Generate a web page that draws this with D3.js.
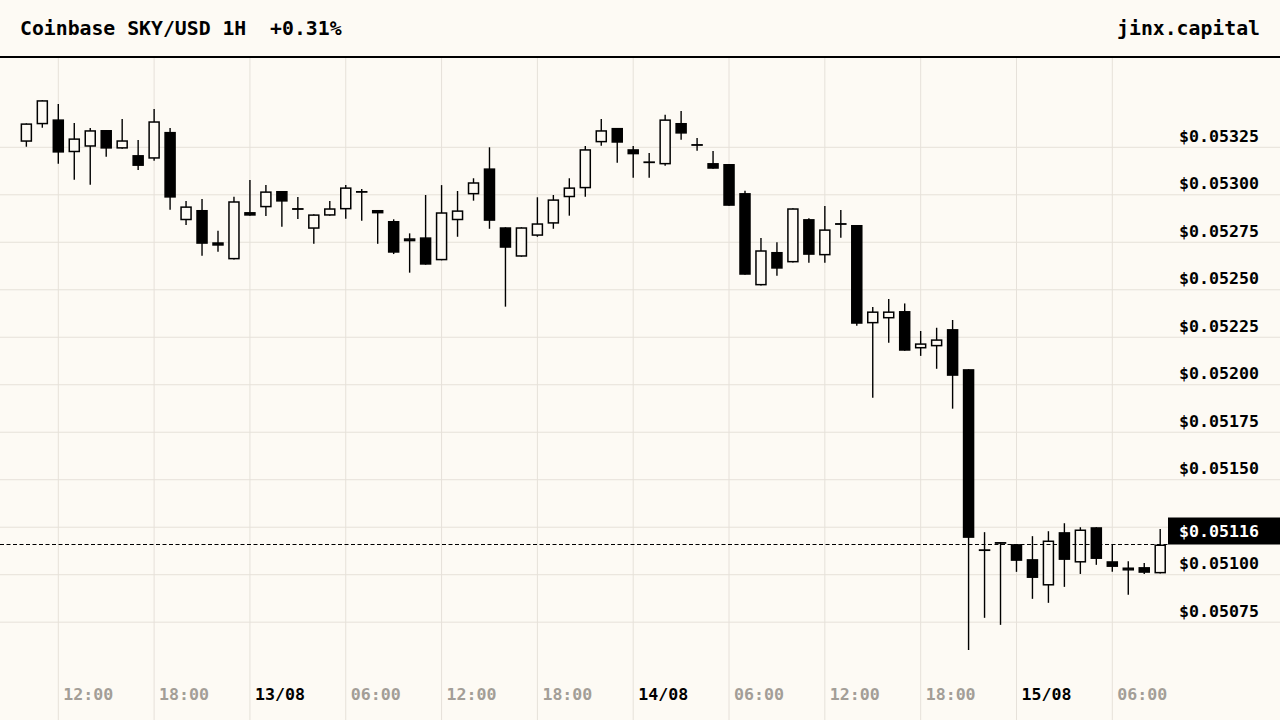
<!DOCTYPE html>
<html>
<head>
<meta charset="utf-8">
<script src="https://cdn.jsdelivr.net/npm/d3@7"></script>
<style>
  html, body { margin: 0; padding: 0; background: #fdfaf4; }
  svg { display: block; font-family: "DejaVu Sans Mono", monospace; }
</style>
</head>
<body>
<div id="chart"></div>
<script>
// Hourly candles, 12/08 10:00 -> 15/08 09:00
const startTime = new Date(2025, 7, 12, 10);
const opens = [0.053279, 0.053371, 0.053397, 0.053224, 0.053253, 0.053341, 0.053243, 0.053209, 0.053190, 0.053331,
  0.052866, 0.052920, 0.052750, 0.052660, 0.052909, 0.052934, 0.053020, 0.052930, 0.052821, 0.052890,
  0.052923, 0.053020, 0.052920, 0.052862, 0.052755, 0.052776, 0.052655, 0.052866, 0.053002, 0.053139,
  0.052829, 0.052674, 0.052784, 0.052848, 0.052987, 0.053034, 0.053276, 0.053352, 0.053240, 0.053176,
  0.053160, 0.053378, 0.053267, 0.053167, 0.053162, 0.053009, 0.052523, 0.052699, 0.052644, 0.052872,
  0.052681, 0.052851, 0.052841, 0.052323, 0.052349, 0.052388, 0.052191, 0.052202, 0.052293, 0.052082,
  0.051134, 0.051172, 0.051161, 0.051082, 0.050943, 0.051224, 0.051064, 0.051250, 0.051071, 0.051022,
  0.051040, 0.051007];
const highs = [0.053376, 0.053498, 0.053478, 0.053378, 0.053352, 0.053341, 0.053399, 0.053288, 0.053452, 0.053352,
  0.052967, 0.052978, 0.052811, 0.052990, 0.053078, 0.053051, 0.053020, 0.052988, 0.052897, 0.052967,
  0.053051, 0.053030, 0.052920, 0.052871, 0.052797, 0.052999, 0.053051, 0.053020, 0.053087, 0.053250,
  0.052829, 0.052829, 0.052987, 0.052999, 0.053087, 0.053257, 0.053399, 0.053352, 0.053257, 0.053220,
  0.053422, 0.053441, 0.053299, 0.053231, 0.053162, 0.053021, 0.052772, 0.052750, 0.052929, 0.052876,
  0.052941, 0.052920, 0.052841, 0.052409, 0.052451, 0.052428, 0.052283, 0.052300, 0.052341, 0.052082,
  0.051224, 0.051172, 0.051161, 0.051203, 0.051229, 0.051271, 0.051250, 0.051250, 0.051161, 0.051071,
  0.051061, 0.051240];
const lows = [0.053253, 0.053353, 0.053164, 0.053079, 0.053053, 0.053200, 0.053243, 0.053130, 0.053179, 0.052921,
  0.052841, 0.052679, 0.052700, 0.052660, 0.052890, 0.052888, 0.052832, 0.052872, 0.052742, 0.052890,
  0.052874, 0.052863, 0.052742, 0.052688, 0.052590, 0.052632, 0.052655, 0.052779, 0.052969, 0.052821,
  0.052411, 0.052674, 0.052779, 0.052821, 0.052890, 0.052990, 0.053258, 0.053169, 0.053090, 0.053090,
  0.053153, 0.053290, 0.053232, 0.053137, 0.052942, 0.052579, 0.052523, 0.052574, 0.052644, 0.052642,
  0.052642, 0.052774, 0.052310, 0.051931, 0.052221, 0.052179, 0.052152, 0.052084, 0.051874, 0.050604,
  0.050773, 0.050736, 0.051015, 0.050873, 0.050852, 0.050936, 0.051004, 0.051052, 0.051015, 0.050894,
  0.051004, 0.051007];
const closes = [0.053376, 0.053498, 0.053222, 0.053297, 0.053340, 0.053243, 0.053287, 0.053152, 0.053387, 0.052985,
  0.052939, 0.052742, 0.052732, 0.052966, 0.052890, 0.053018, 0.052964, 0.052921, 0.052897, 0.052929,
  0.053039, 0.053011, 0.052902, 0.052695, 0.052771, 0.052632, 0.052908, 0.052918, 0.053066, 0.052863,
  0.052721, 0.052829, 0.052850, 0.052976, 0.053039, 0.053240, 0.053340, 0.053274, 0.053213, 0.053169,
  0.053397, 0.053322, 0.053258, 0.053137, 0.052942, 0.052579, 0.052708, 0.052611, 0.052929, 0.052684,
  0.052818, 0.052842, 0.052321, 0.052386, 0.052386, 0.052179, 0.052218, 0.052239, 0.052047, 0.051194,
  0.051129, 0.051170, 0.051073, 0.050983, 0.051180, 0.051078, 0.051238, 0.051083, 0.051041, 0.051038,
  0.051010, 0.051159];

// Axis ticks
const priceTicks = [0.05075, 0.05100, 0.05125, 0.05150, 0.05175, 0.05200, 0.05225, 0.05250, 0.05275, 0.05300, 0.05325];
const hiddenPriceLabels = [0.05125];
const timeTicks = [new Date(2025, 7, 12, 12), new Date(2025, 7, 12, 18), new Date(2025, 7, 13, 0), new Date(2025, 7, 13, 6),
  new Date(2025, 7, 13, 12), new Date(2025, 7, 13, 18), new Date(2025, 7, 14, 0), new Date(2025, 7, 14, 6),
  new Date(2025, 7, 14, 12), new Date(2025, 7, 14, 18), new Date(2025, 7, 15, 0), new Date(2025, 7, 15, 6)];
const timeLabels = ['12:00', '18:00', '13/08', '06:00', '12:00', '18:00', '14/08', '06:00', '12:00', '18:00', '15/08', '06:00'];

const title = 'Coinbase SKY/USD 1H  +0.31%';
const brand = 'jinx.capital';

const candles = opens.map((o, i) => ({
  t: d3.timeHour.offset(startTime, i),
  o, h: highs[i], l: lows[i], c: closes[i]
}));

const dims = { width: 1280, height: 720, plotRight: 1168, headerLine: 57 };
const bg = '#fdfaf4';
const ink = '#000';
const grid = '#e6e1d9';

const x = d3.scaleTime()
  .domain([timeTicks[0], timeTicks[timeTicks.length - 1]])
  .range([58.3, 1112.3]);
const y = d3.scaleLinear()
  .domain([0.05075, 0.05325])
  .range([622.2, 147.3]);

const svg = d3.select('#chart').append('svg')
  .attr('width', dims.width)
  .attr('height', dims.height);

svg.append('rect').attr('width', dims.width).attr('height', dims.height).attr('fill', bg);

// grid
svg.append('g').selectAll('line')
  .data(priceTicks)
  .join('line')
  .attr('x1', 0).attr('x2', dims.width)
  .attr('y1', d => y(d)).attr('y2', d => y(d))
  .attr('stroke', grid).attr('stroke-width', 1);

svg.append('g').selectAll('line')
  .data(timeTicks)
  .join('line')
  .attr('x1', d => x(d)).attr('x2', d => x(d))
  .attr('y1', dims.headerLine).attr('y2', dims.height)
  .attr('stroke', grid).attr('stroke-width', 1);

// header
svg.append('line')
  .attr('x1', 0).attr('x2', dims.width)
  .attr('y1', dims.headerLine).attr('y2', dims.headerLine)
  .attr('stroke', ink).attr('stroke-width', 2);
svg.append('text')
  .attr('x', 20).attr('y', 35)
  .attr('font-size', 19.8).attr('font-weight', 'bold').attr('fill', ink)
  .attr('xml:space', 'preserve').style('white-space', 'pre')
  .text(title);
svg.append('text')
  .attr('x', 1260).attr('y', 35)
  .attr('text-anchor', 'end')
  .attr('font-size', 19.8).attr('font-weight', 'bold').attr('fill', ink)
  .text(brand);

// candles
const bodyW = 10;
const cg = svg.append('g');
cg.selectAll('line')
  .data(candles)
  .join('line')
  .attr('x1', d => x(d.t)).attr('x2', d => x(d.t))
  .attr('y1', d => y(d.h)).attr('y2', d => y(d.l))
  .attr('stroke', ink).attr('stroke-width', 1.4);
cg.selectAll('rect')
  .data(candles)
  .join('rect')
  .attr('x', d => x(d.t) - bodyW / 2)
  .attr('width', bodyW)
  .attr('y', d => y(Math.max(d.o, d.c)) + 0.75)
  .attr('height', d => Math.max(0.3, Math.abs(y(d.o) - y(d.c)) - 1.5))
  .attr('fill', d => d.c >= d.o ? bg : ink)
  .attr('stroke', ink).attr('stroke-width', 1.5);

// last price line and tag
const last = closes[closes.length - 1];
svg.append('line')
  .attr('x1', 0).attr('x2', dims.plotRight)
  .attr('y1', y(last)).attr('y2', y(last))
  .attr('stroke', ink).attr('stroke-width', 1.2)
  .attr('stroke-dasharray', '4,2.5');

// y labels
svg.append('g').selectAll('text')
  .data(priceTicks.filter(d => !hiddenPriceLabels.includes(d)))
  .join('text')
  .attr('x', 1179).attr('y', d => y(d) - 5.5)
  .attr('font-size', 16.6).attr('font-weight', 'bold').attr('fill', ink)
  .text(d => '$' + d.toFixed(5));

svg.append('rect')
  .attr('x', dims.plotRight).attr('y', y(last) - 27)
  .attr('width', dims.width - dims.plotRight).attr('height', 27)
  .attr('fill', '#000');
svg.append('text')
  .attr('x', 1179).attr('y', y(last) - 8)
  .attr('font-size', 16.6).attr('font-weight', 'bold').attr('fill', '#fff')
  .text('$' + last.toFixed(5));

// x labels
svg.append('g').selectAll('text')
  .data(timeTicks)
  .join('text')
  .attr('x', d => x(d) + 5).attr('y', 700)
  .attr('font-size', 16.6).attr('font-weight', 'bold')
  .attr('fill', (d, i) => timeLabels[i].includes('/') ? ink : '#a39e97')
  .text((d, i) => timeLabels[i]);
</script>
</body>
</html>
